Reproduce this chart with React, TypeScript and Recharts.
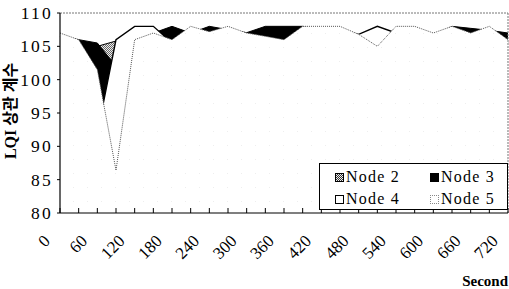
import React from 'react';
import { AreaChart, Area, XAxis, YAxis, ReferenceLine } from 'recharts';

// Time (seconds) of each sample
const seconds = [0, 30, 60, 90, 120, 150, 180, 210, 240, 270, 300, 330, 360, 390, 420, 450, 480, 510, 540, 570, 600, 630, 660, 690, 720];
// LQI correlation values per node
const node2 = [106, 105, 105, 105.8, 107, 106.5, 105.5, 106.5, 106.5, 107, 106.5, 106, 105.5, 107.5, 107, 107, 106, 107, 106, 107, 106, 107.5, 106.5, 107, 105.5];
const node3 = [106.5, 106, 105.5, 102, 107.5, 107, 108, 107, 108, 107.5, 107.05, 108, 108, 108, 107.5, 107.5, 106.5, 107.5, 106.5, 107.5, 106.5, 108, 107.7, 107.4, 107];
const node4 = [106.5, 105.5, 92, 106, 108, 108, 105.5, 107, 106.5, 107.5, 106.5, 106, 105.5, 107.5, 107.5, 107.5, 106.8, 108, 107, 107.5, 106.5, 107.5, 106.5, 107.5, 105.5];
const node5 = [107, 106, 101.5, 86.4, 106, 107, 106, 108, 107.2, 108, 107, 106.5, 106, 108, 108, 108, 106.8, 105, 108, 108, 107, 108, 107, 108, 106];

const xTickLabels = [0, 60, 120, 180, 240, 300, 360, 420, 480, 540, 600, 660, 720];
const yTicks = [80, 85, 90, 95, 100, 105, 110];
const seriesNames = ['Node 2', 'Node 3', 'Node 4', 'Node 5'];
const yTitle = 'LQI 상관 계수';
const xTitle = 'Second';

const data = seconds.map((s, i) => ({
  s,
  n2: node2[i],
  n3: node3[i],
  n4: node4[i],
  n5: node5[i],
}));

const FONT = '"Liberation Serif", "Times New Roman", serif';

const XTick = (props: any) => {
  const x = Number(props.x);
  const y = Number(props.y);
  const { payload } = props;
  const show = xTickLabels.includes(payload.value);
  const tx = x - 9;
  const ty = y + 29;
  return (
    <g>
      <line x1={x} x2={x} y1={y} y2={y - 5} stroke="#000" strokeWidth={1} />
      {show && (
        <text
          transform={`translate(${tx},${ty}) rotate(-45)`}
          textAnchor="end"
          fontFamily={FONT}
          fontSize={17}
          fill="#000"
        >
          {String(payload.value)}
        </text>
      )}
    </g>
  );
};

const YTick = (props: any) => {
  const x = Number(props.x);
  const y = Number(props.y);
  const { payload } = props;
  return (
    <text
      x={x}
      y={y}
      dy={6}
      textAnchor="end"
      fontFamily={FONT}
      fontSize={17.5}
      letterSpacing={2.2}
      fill="#000"
    >
      {payload.value}
    </text>
  );
};

const YTitle = (props: any) => {
  const vb = props.viewBox || {};
  const cx = Number(vb.x || 0) + 16;
  const cy = Number(vb.y || 0) + Number(vb.height || 0) / 2 - 2;
  return (
    <g transform={`translate(${cx} ${cy})`}>
      <text
        x={0}
        y={0}
        transform="rotate(-90)"
        textAnchor="middle"
        fontFamily={'"Liberation Serif", "Noto Sans CJK KR", serif'}
        fontWeight="bold"
        fontSize={16}
        fill="#000"
      >
        {yTitle}
      </text>
    </g>
  );
};

const XTitle = (props: any) => {
  const vb = props.viewBox || {};
  const rx = Number(vb.x || 0) + Number(vb.width || 0);
  const by = Number(vb.y || 0) + 73;
  return (
    <text x={rx} y={by} textAnchor="end" fontFamily={FONT} fontWeight="bold" fontSize={15} fill="#000">
      {xTitle}
    </text>
  );
};

const swatches: React.CSSProperties[] = [
  { background: 'repeating-conic-gradient(#333 0% 25%, #eee 0% 50%) 0 0 / 2px 2px', border: '1px solid #000' },
  { background: '#000', border: '1px solid #000' },
  { background: '#fff', border: '1px solid #000' },
  { background: '#fff', border: '1px dotted #888' },
];

export default function App() {
  return (
    <div style={{ position: 'absolute', left: 0, top: 0, width: 509, height: 289, background: '#fff' }}>
      <AreaChart width={509} height={289} data={data} margin={{ top: 13, right: 1, bottom: 0, left: 0 }}>
        <defs>
          <pattern id="checker" width="2" height="2" patternUnits="userSpaceOnUse">
            <rect width="2" height="2" fill="#eee" />
            <rect width="1" height="1" fill="#666" />
            <rect x="1" y="1" width="1" height="1" fill="#666" />
          </pattern>
          <pattern id="dots" width="14" height="14" patternUnits="userSpaceOnUse">
            <rect width="14" height="14" fill="#fff" />
            <rect x="3" y="5" width="1" height="1" fill="#eeeeee" />
          </pattern>
        </defs>
        <Area type="linear" dataKey="n2" name={seriesNames[0]} fill="url(#checker)" fillOpacity={1} stroke="#000" strokeWidth={1} dot={false} activeDot={false} isAnimationActive={false} />
        <Area type="linear" dataKey="n3" name={seriesNames[1]} fill="#000" fillOpacity={1} stroke="#000" strokeWidth={1} dot={false} activeDot={false} isAnimationActive={false} />
        <Area type="linear" dataKey="n4" name={seriesNames[2]} fill="#fff" fillOpacity={1} stroke="#000" strokeWidth={1.4} dot={false} activeDot={false} isAnimationActive={false} />
        <Area type="linear" dataKey="n5" name={seriesNames[3]} fill="url(#dots)" fillOpacity={1} stroke="#555" strokeWidth={1} strokeDasharray="1 1" dot={false} activeDot={false} isAnimationActive={false} />
        <ReferenceLine y={110} stroke="#777" strokeDasharray="2 1" />
        <ReferenceLine x={720} stroke="#777" strokeDasharray="2 1" />
        <XAxis
          dataKey="s"
          type="number"
          domain={[0, 720]}
          ticks={seconds}
          interval={0}
          height={76}
          tickSize={0}
          tickMargin={0}
          tickLine={false}
          axisLine={{ stroke: '#000', strokeWidth: 1.2 }}
          tick={XTick}
          label={<XTitle />}
        />
        <YAxis
          type="number"
          domain={[80, 110]}
          ticks={yTicks}
          interval={0}
          width={60}
          tickSize={3}
          tickMargin={4}
          tickLine={{ stroke: '#000' }}
          axisLine={{ stroke: '#000', strokeWidth: 1.2 }}
          tick={<YTick />}
          label={<YTitle />}
        />
      </AreaChart>
      <div
        style={{
          position: 'absolute',
          left: 319,
          top: 163,
          width: 187,
          height: 45,
          border: '1px solid #000',
          background: '#fff',
          fontFamily: FONT,
          fontSize: 16,
          letterSpacing: 1.2,
          color: '#000',
        }}
      >
        {seriesNames.map((name, i) => (
          <div
            key={name}
            style={{
              position: 'absolute',
              left: i % 2 === 0 ? 15 : 110,
              top: i < 2 ? 5 : 27,
              height: 16,
              lineHeight: '16px',
              display: 'flex',
              alignItems: 'center',
              whiteSpace: 'nowrap',
            }}
          >
            <span style={{ display: 'inline-block', width: 7, height: 7, marginRight: 2, ...swatches[i] }} />
            <span>{name}</span>
          </div>
        ))}
      </div>
    </div>
  );
}
